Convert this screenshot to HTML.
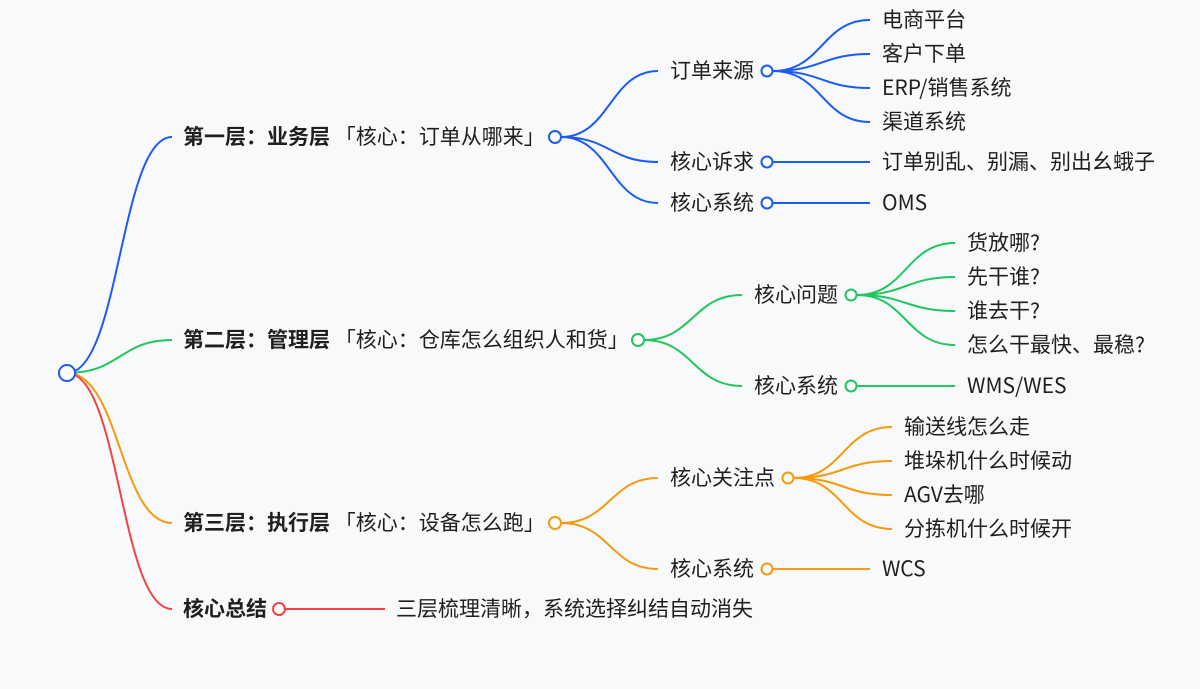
<!DOCTYPE html>
<html><head><meta charset="utf-8"><style>
html,body{margin:0;padding:0;background:#f8f9fb;}
svg{display:block}
text{font-family:"Noto Sans CJK SC","Liberation Sans",sans-serif;font-size:21px;fill:#1f1f1f;}
.b{font-weight:bold;}
path{fill:none;stroke-width:2;}
circle{fill:#fff;stroke-width:2;}
</style></head><body>
<svg width="1200" height="689" viewBox="0 0 1200 689">
<path d="M67 373 C120 373 120 137 172 137" stroke="#1a5cf0"/>
<path d="M67 373 C120 373 120 340 172 340" stroke="#22c55e"/>
<path d="M67 373 C120 373 120 523 172 523" stroke="#f59a0b"/>
<path d="M67 373 C120 373 120 609 172 609" stroke="#ef4444"/>

<g stroke="#1a5cf0">
<path d="M561 137 C610 137 610 71 658 71"/>
<path d="M561 137 C610 137 610 162 658 162"/>
<path d="M561 137 C610 137 610 203 658 203"/>
<path d="M773 71 C822 71 822 20 870 20"/>
<path d="M773 71 C822 71 822 54 870 54"/>
<path d="M773 71 C822 71 822 88 870 88"/>
<path d="M773 71 C822 71 822 122 870 122"/>
<path d="M773 162 L870 162"/>
<path d="M773 203 L870 203"/>
<circle cx="555" cy="137" r="6"/>
<circle cx="767" cy="71" r="5.5"/>
<circle cx="767" cy="162" r="5.5"/>
<circle cx="767" cy="203" r="5.5"/>
</g>
<g stroke="#22c55e">
<path d="M644 340 C693 340 693 295 742 295"/>
<path d="M644 340 C693 340 693 386 742 386"/>
<path d="M857 295 C906 295 906 243 955 243"/>
<path d="M857 295 C906 295 906 277 955 277"/>
<path d="M857 295 C906 295 906 311 955 311"/>
<path d="M857 295 C906 295 906 345 955 345"/>
<path d="M857 386 L955 386"/>
<circle cx="638" cy="340" r="6"/>
<circle cx="851" cy="295" r="5.5"/>
<circle cx="851" cy="386" r="5.5"/>
</g>
<g stroke="#f59a0b">
<path d="M561 523 C610 523 610 478 658 478"/>
<path d="M561 523 C610 523 610 569 658 569"/>
<path d="M794 478 C843 478 843 427 892 427"/>
<path d="M794 478 C843 478 843 461 892 461"/>
<path d="M794 478 C843 478 843 495 892 495"/>
<path d="M794 478 C843 478 843 529 892 529"/>
<path d="M773 569 L870 569"/>
<circle cx="555" cy="523" r="6"/>
<circle cx="788" cy="478" r="5.5"/>
<circle cx="767" cy="569" r="5.5"/>
</g>
<g stroke="#ef4444">
<path d="M285 609 L385 609"/>
<circle cx="279" cy="609" r="6"/>
</g>
<circle cx="67" cy="373" r="8" stroke="#1a5cf0" stroke-width="2.5"/>

<text x="183" y="144"><tspan class="b">第一层：业务层</tspan> 「核心：订单从哪来」</text>
<text x="183" y="347"><tspan class="b">第二层：管理层</tspan> 「核心：仓库怎么组织人和货」</text>
<text x="183" y="530"><tspan class="b">第三层：执行层</tspan> 「核心：设备怎么跑」</text>
<text x="183" y="616" class="b">核心总结</text>
<text x="396" y="616">三层梳理清晰，系统选择纠结自动消失</text>

<text x="670" y="78">订单来源</text>
<text x="670" y="169">核心诉求</text>
<text x="670" y="210">核心系统</text>
<text x="882" y="27">电商平台</text>
<text x="882" y="61">客户下单</text>
<text x="882" y="95">ERP/销售系统</text>
<text x="882" y="129">渠道系统</text>
<text x="882" y="169">订单别乱、别漏、别出幺蛾子</text>
<text x="882" y="210">OMS</text>
<text x="754" y="302">核心问题</text>
<text x="754" y="393">核心系统</text>
<text x="967" y="250">货放哪?</text>
<text x="967" y="284">先干谁?</text>
<text x="967" y="318">谁去干?</text>
<text x="967" y="352">怎么干最快、最稳?</text>
<text x="967" y="393">WMS/WES</text>
<text x="670" y="485">核心关注点</text>
<text x="670" y="576">核心系统</text>
<text x="904" y="434">输送线怎么走</text>
<text x="904" y="468">堆垛机什么时候动</text>
<text x="904" y="502">AGV去哪</text>
<text x="904" y="536">分拣机什么时候开</text>
<text x="882" y="576">WCS</text>
</svg>
</body></html>
